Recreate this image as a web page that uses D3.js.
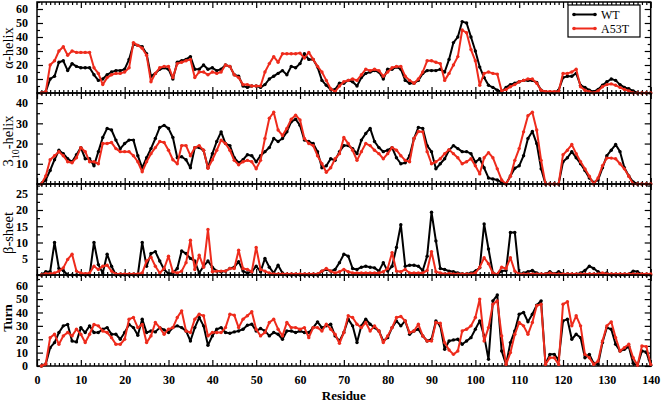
<!DOCTYPE html>
<html>
<head>
<meta charset="utf-8">
<script src="https://cdn.jsdelivr.net/npm/d3@7"></script>
<style>
  body { margin: 0; background: #fff; }
  svg text { font-family: "Liberation Serif", "DejaVu Serif", serif; }
</style>
</head>
<body>
<div id="chart"></div>
<script>
// residue numbers along the x axis
var residues = d3.range(1, 141);
var seriesNames = ["WT", "A53T"];
var xTickValues = [0, 10, 20, 30, 40, 50, 60, 70, 80, 90, 100, 110, 120, 130, 140];

// alpha-helix (%)
var alphaWT = [0,1,10,12,22,23,16,21,19,18, 18,18,13,9,10,13,15,16,16,17,
  24,35,34,33,28,12,14,17,18,17, 10,22,23,24,26,17,17,20,17,18,
  16,17,20,19,13,12,5,4,5,5, 4,6,10,12,14,16,13,19,18,21,
  28,24,24,18.5,9,5.5,2.5,2.5,7,7, 9,8,5,11,14,15,16,15,10,17,
  17,18.5,17,9,7,7,9,14,16,16, 16,17,15,24,36,40,51,50,40,30,
  18.5,11,5.5,4,2,1,4,6,7,8, 9,9,9,7.5,2,1,0,0,2,11,
  12,12,14,5.5,4,2,1,2.5,5.5,8, 10,9,6,4,3,1.5,0,0,0,0];
var alphaA53T = [0,1,20,23,30,33,27,30,29,29, 29,29,18,14,6,11,13,14,14,15,
  18,36,34,32,27,8,14,18,19,19, 11,21,22,23,24,11,15,15,13,15,
  14,15,20,19,13,11,6,6,5,5, 5,15,21,26,22,28,28,28,28,28.5,
  25,29,24,19,15,9,3,1,5,8, 9,10,9,13,17,16,17,16,12,15,
  18,19,19,12,9,7,10,15,23,23, 22,21,9,14,20,26,45,43,31,23,
  5.5,14,15,14,13.5,1.5,2.5,4.5,6,8, 9,10,10,7,2,1,1,1,1,14,
  14,15,17,4.5,2,1,0,1.5,4.5,6, 6.5,5.5,4,2.5,1.5,0,0,0,0,0];

// 3-10 helix (%)
var helix310WT = [0,2,6.7,12,16.7,15,12.5,11,14.5,18, 12.5,12.5,9,16,23,27.5,26.7,21.7,17.5,20,
  21.7,21.7,14,8,13,17.5,22.5,28,29,27.5, 23,13,13.5,12,8,18,18,16.7,8,15,
  21,25.8,20,19,13,10.5,12,14.5,14,11, 14,16,18,22.5,21,22.5,25.8,30.8,32,29,
  21.7,21,20,16,8,9,12.5,11.7,16,19, 19,17.5,15,21.7,25,27.5,21,18,16,16.7,
  18,13,10,10.5,14,22.5,28,27.5,19,16, 7.5,10,12.5,16.7,19,17.5,16,16,15,10.8,
  12.5,8,3,2.5,2,0.8,0,4,7.8,9, 14,22.5,26,20,7.5,0,0,0,0,11,
  13,16,13,10,6.7,3,0.8,2,8,14, 16.7,19.5,16,8,4,1,0,0,0,0];
var helix310A53T = [0,4,12,14,16,14,11,10.5,13,18, 16,11,11,10,20,20,20.5,17.5,16,16,
  16,14,11,6,11,15,18,21,20.5,16.7, 12,10,19,19,14,18,19,16.7,7.8,12,
  16.7,21.7,20,16.7,11.7,9.5,11,11.7,11,7.5, 11.7,22.5,32.5,35.5,26.7,24,27.5,32,34,31.7,
  22.5,20,19,14,10,5.8,8,12.5,15,23, 20,16.7,11.7,16,20,19,16.7,15,12.5,15,
  18,16.7,14,11.7,11,22.5,26,25.8,16,10, 11,12.5,15,17,15,13,10,11,12.5,9,
  5,13,15.5,13,7.5,2,0,3.8,11.7,17.5, 25.8,33.8,35.5,26.7,11.7,0,0,0,0,14.5,
  16.7,19.5,15,11,7.5,3.8,0,3,9,12.8, 12.8,12.5,10,7.5,3.8,0,0,0,0,0];

// beta-sheet (%)
var betaWT = [0,1,1,10,2,1.4,0,0,0,0, 0,0,10,3.2,0.6,6.4,2.7,0,0,0,
  0,0,0,10,2.7,6.6,7.2,4.3,1.7,0.4, 0.6,2,7.4,6.6,5.1,4.3,0.6,2.7,4.3,2.4,
  1.2,1,1.2,2,2.4,4.1,1.2,0.6,1,2.7, 1,5.1,2.4,0.6,3,0.6,0,0,0,0,
  0,0,0,0,1.2,1.7,1.2,1.7,3.8,6.4, 5.8,2,1.7,2.4,2.7,2.4,2.2,1.2,3.8,1.2,
  2.7,8.5,15.5,2.7,3,3,2.7,1.4,5.8,19.3, 10.5,2,1.7,1.2,1,0.6,0.3,0.3,0.6,1.2,
  2.2,15.7,8,0.6,0.2,1.2,1.4,13.1,13.1,0.3, 0.6,1,1.4,0.6,0.2,0.3,1,0.3,1,0.3,
  0.3,0.2,0.2,0.6,1.4,2.7,2,1,0.3,0.6, 0,0,0,0,0.2,1.2,1,0.2,0,0];
var betaA53T = [0,0.4,0.4,0.6,1.2,2.2,4.8,6.4,1.2,0.6, 0.4,0.6,2.7,1.7,2.7,3,1.2,0.3,0.3,0.3,
  0.3,0.3,0.3,0.6,4.3,5.5,2.7,0.6,2,5.8, 1,0.6,1.2,3.8,10.7,1.7,6.1,2.4,14,1,
  1.2,1.2,1.2,2,2,7.6,2,1.7,1,8.5, 1.7,1.2,0.6,0.3,0.3,0.3,0.3,0.3,0.3,0.3,
  0.3,0.3,0.3,0.3,1.2,2,1.2,0.6,1,1.7, 1,0.6,0.6,0.6,0.6,0.6,0.6,0.6,1,2,
  6.9,1.2,1,1.7,0.6,0.6,0.6,0.6,1.4,7.2, 1,0.6,0.3,0.5,0.3,0.3,0.3,0.3,0.3,0.6,
  2.4,5.3,3.5,0.6,0.2,2.4,2,5.3,1.2,0.3, 0.3,0.3,0.3,0.3,0.3,0.3,0.6,0.3,0.3,0.3,
  0.3,0.3,0.3,0.3,0.3,0.3,0.3,0.3,0.6,0.3, 0.3,0.3,0.3,0.3,0.3,0.3,0.3,0.3,0.3,0.3];

// turn (%)
var turnWT = [0,1.5,13.7,17.5,25,30,31,18.7,18,28.7, 25,30,25,25,27.5,28.7,23.7,23.7,20,25,
  31,28.7,23,35,25,26.2,25.5,28.7,27,25, 28.7,30,28.7,26.2,18.7,28.7,36.2,30,15.5,22.5,
  27.5,28.7,25,24.5,25.5,26.2,27.5,30.5,31.2,26.2, 28,26.2,22.5,25,23.7,20,26.2,26.2,25,26.2,
  25,25,28.7,33,28.7,30,31.2,22.5,18.7,25, 35,30,17.5,30,35,31.2,28.7,26.2,18.7,21.2,
  28.7,33.7,30,33.7,23.7,26.2,27.5,22.5,18.7,20, 33.7,30,12.5,18.7,19.5,20,16.2,18.7,21.2,27.5,
  33.7,22.5,5,48.7,53,11.2,1.2,17.5,26.2,38.7, 40,33,38.7,45.5,48.7,1.2,8.7,8.7,4.5,33.7,
  35,20,23.7,21.2,6.2,8.7,2,1.2,17.5,28.7, 27.5,16.2,11.2,12.5,14.5,2,0.5,11.2,10.5,0.5];
var turnA53T = [0,1.5,21.2,23.7,16.2,22.5,25,22.5,27.5,23.7, 17.5,23.7,31,30,26.2,25,21.2,16.2,16.2,20,
  35,36.2,28.7,31,17.5,22.5,32.5,28.7,23.7,27.5, 28.7,36.2,41.2,26.2,25,35,38.7,37.5,22.5,25,
  25,25,28.7,38.7,38,28.7,35,37.5,40.5,27.5, 22.5,25,32.5,35,27.5,22.5,32.5,28.7,28.7,27.5,
  28.7,21.2,28.7,28.7,26.2,31.2,27.5,23.7,17,25, 37.5,36.2,31.2,28.7,32.5,26.2,30,26.2,17.5,22.5,
  28.7,36.2,37,33.7,25,26.2,31.2,22.5,18.7,18.7, 32.5,32,17.5,12,8.7,11.2,26.2,27.5,30,36.2,
  50,18.7,28.7,46.2,48.7,22.5,1.2,10,23.7,32.5, 30,23.7,32.5,45,46.2,1.2,6.2,6.2,1.2,46.2,
  48,30,37.5,30,8.7,6.2,1.2,3.7,18.7,30, 33,21.2,11.2,13.7,16.2,6.2,0.5,15,14.5,1.2];

// y tick labels per panel
var alphaTicks = [10, 20, 30, 40, 50, 60];
var helix310Ticks = [10, 20, 30, 40];
var betaTicks = [5, 10, 15, 20, 25];
var turnTicks = [0, 10, 20, 30, 40, 50, 60];

var colors = { WT: "#000000", A53T: "#ee2b1c" };

var panels = [
  { label: "alpha", wt: alphaWT, mut: alphaA53T, ticks: alphaTicks, max: 65, minorStep: 5, top: 2, labelY: 48 },
  { label: "310", wt: helix310WT, mut: helix310A53T, ticks: helix310Ticks, max: 45, minorStep: 5, top: 93, labelY: 141 },
  { label: "beta", wt: betaWT, mut: betaA53T, ticks: betaTicks, max: 28, minorStep: 2.5, top: 184, labelY: 233 },
  { label: "turn", wt: turnWT, mut: turnA53T, ticks: turnTicks, max: 68, minorStep: 5, top: 275, labelY: 318 }
];

var W = 661, H = 403;
var left = 37, right = 650.7, panelH = 91;

var svg = d3.select("#chart").append("svg")
    .attr("width", W)
    .attr("height", H);

var x = d3.scaleLinear().domain([0, 140]).range([left, right]);
var minorX = residues.filter(function(r) { return r % 10 !== 0; });

panels.forEach(function(p, i) {
  var y = d3.scaleLinear().domain([0, p.max]).range([p.top + panelH, p.top]);
  var g = svg.append("g");
  var minorY = d3.range(0, p.max + 0.01, p.minorStep).filter(function(v) { return p.ticks.indexOf(v) < 0; });
  var isLast = i === panels.length - 1;

  // x ticks, bottom and top, pointing in
  g.append("g").attr("transform", "translate(0," + (p.top + panelH) + ")")
      .call(d3.axisBottom(x).tickValues(xTickValues).tickSize(-6).tickPadding(9)
        .tickFormat(isLast ? d3.format("d") : function() { return ""; }));
  g.append("g").attr("transform", "translate(0," + (p.top + panelH) + ")")
      .call(d3.axisBottom(x).tickValues(minorX).tickSize(-3).tickFormat(""));
  g.append("g").attr("transform", "translate(0," + p.top + ")")
      .call(d3.axisTop(x).tickValues(xTickValues).tickSize(-6).tickFormat(""));
  g.append("g").attr("transform", "translate(0," + p.top + ")")
      .call(d3.axisTop(x).tickValues(minorX).tickSize(-3).tickFormat(""));

  // y ticks, left and right
  g.append("g").attr("transform", "translate(" + left + ",0)")
      .call(d3.axisLeft(y).tickValues(p.ticks).tickSize(-6).tickPadding(9).tickFormat(d3.format("d")));
  g.append("g").attr("transform", "translate(" + left + ",0)")
      .call(d3.axisLeft(y).tickValues(minorY).tickSize(-3).tickFormat(""));
  g.append("g").attr("transform", "translate(" + right + ",0)")
      .call(d3.axisRight(y).tickValues(p.ticks).tickSize(-6).tickFormat(""));
  g.append("g").attr("transform", "translate(" + right + ",0)")
      .call(d3.axisRight(y).tickValues(minorY).tickSize(-3).tickFormat(""));

  g.selectAll(".domain").remove();
  g.selectAll(".tick line").attr("stroke", "#000").attr("stroke-width", 1.2);
  g.selectAll(".tick text")
      .style("font-family", "Liberation Serif")
      .style("font-weight", "bold")
      .style("font-size", "12px")
      .attr("fill", "#000");

  // frame
  g.append("rect")
      .attr("x", left).attr("y", p.top)
      .attr("width", right - left).attr("height", panelH)
      .attr("fill", "none").attr("stroke", "#000").attr("stroke-width", 1.5);

  // series
  var line = d3.line()
      .x(function(d, k) { return x(residues[k]); })
      .y(function(d) { return y(d); });

  [["WT", p.wt], ["A53T", p.mut]].forEach(function(s) {
    g.append("path")
        .datum(s[1])
        .attr("d", line)
        .attr("fill", "none")
        .attr("stroke", colors[s[0]])
        .attr("stroke-width", 2)
        .attr("stroke-linejoin", "round");
    g.selectAll(".pt-" + s[0])
        .data(s[1])
        .enter().append("circle")
        .attr("class", "pt-" + s[0])
        .attr("cx", function(d, k) { return x(residues[k]); })
        .attr("cy", function(d) { return y(d); })
        .attr("r", 1.7)
        .attr("fill", colors[s[0]]);
  });

  // y axis title
  var t = svg.append("text")
      .attr("transform", "translate(8," + p.labelY + ") rotate(-90)")
      .attr("text-anchor", "middle")
      .attr("dy", "0.32em")
      .style("font-size", "14.5px")
      .attr("fill", "#000");
  if (p.label === "alpha") {
    t.text("\u03b1-helix");
  } else if (p.label === "310") {
    t.append("tspan").text("3");
    t.append("tspan").attr("baseline-shift", "sub").style("font-size", "10px").text("10");
    t.append("tspan").text("-helix");
  } else if (p.label === "beta") {
    t.text("\u03b2-sheet");
  } else {
    t.style("font-weight", "bold").style("font-size", "13px").text("Turn");
  }
});

// x axis title
svg.append("text")
    .attr("x", (left + right) / 2)
    .attr("y", 400)
    .attr("text-anchor", "middle")
    .style("font-size", "13px")
    .style("font-weight", "bold")
    .text("Residue");

// legend
var legend = svg.append("g");
legend.append("rect")
    .attr("x", 568).attr("y", 5).attr("width", 72).attr("height", 32)
    .attr("fill", "#fff").attr("stroke", "#000").attr("stroke-width", 1.2);
var rows = legend.selectAll(".legend")
    .data(seriesNames)
    .enter().append("g")
    .attr("class", "legend")
    .attr("transform", function(d, i) { return "translate(0," + (14.5 + i * 14) + ")"; });
rows.append("line")
    .attr("x1", 574).attr("x2", 595)
    .attr("stroke", function(d) { return colors[d]; })
    .attr("stroke-width", 2);
rows.selectAll("circle")
    .data(function(d) { return [574, 595].map(function(cx) { return { cx: cx, c: colors[d] }; }); })
    .enter().append("circle")
    .attr("cx", function(d) { return d.cx; })
    .attr("r", 1.8)
    .attr("fill", function(d) { return d.c; });
rows.append("text")
    .attr("x", 601)
    .attr("dy", "0.35em")
    .style("font-size", "12px")
    .text(function(d) { return d; });
</script>
</body>
</html>
